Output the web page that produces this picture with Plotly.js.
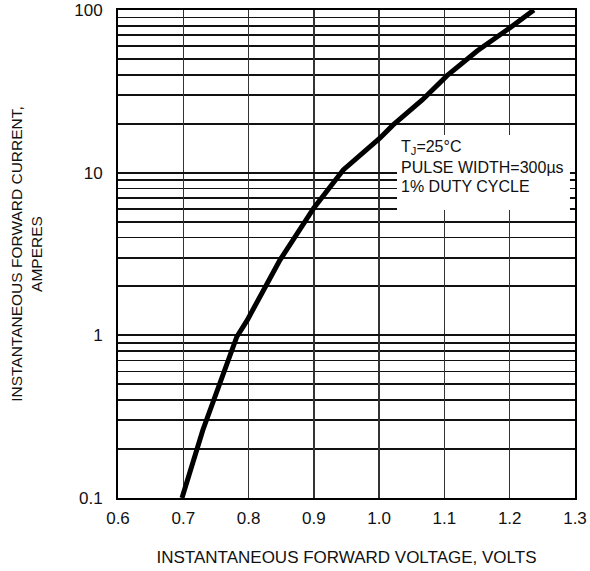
<!DOCTYPE html>
<html>
<head>
<meta charset="utf-8">
<script src="https://cdn.plot.ly/plotly-3.0.1.min.js"></script>
<style>html,body{margin:0;padding:0;background:#fff;}#chart{width:590px;height:571px;}</style>
</head>
<body>
<div id="chart"></div>
<script>
// Forward voltage (V) and forward current (A)
const voltage = [0.698, 0.730, 0.782, 0.798, 0.848, 0.900, 0.945, 1.001, 1.021, 1.066, 1.104, 1.150, 1.200, 1.237];
const current = [0.1, 0.262, 0.98, 1.24, 2.9, 6.07, 10.4, 16.3, 19.6, 28.0, 39.5, 56, 77.5, 100];

const xTicks = [0.6, 0.7, 0.8, 0.9, 1.0, 1.1, 1.2, 1.3];
const xTickLabels = ["0.6", "0.7", "0.8", "0.9", "1.0", "1.1", "1.2", "1.3"];
const yTicks = [0.1, 1, 10, 100];
const yTickLabels = ["0.1", "1", "10", "100"];
const yMinorGrid = [0.2,0.3,0.4,0.5,0.6,0.7,0.8,0.9,2,3,4,5,6,7,8,9,20,30,40,50,60,70,80,90];

const noteLines = ["T<sub>J</sub>=25°C", "PULSE WIDTH=300µs", "1% DUTY CYCLE"];

const FONT = "'Liberation Sans', Arial, Helvetica, sans-serif";

const trace = {
  x: voltage, y: current, type: "scatter", mode: "lines",
  line: {color: "#000", width: 5}, hoverinfo: "skip"
};

const layout = {
  width: 590, height: 571,
  margin: {l: 118, r: 15, t: 10, b: 73},
  paper_bgcolor: "#fff", plot_bgcolor: "#fff",
  showlegend: false,
  font: {family: FONT, size: 17, color: "#111"},
  xaxis: {
    range: [0.6, 1.3], tickvals: xTicks, ticktext: xTickLabels,
    showgrid: true, gridcolor: "#333", gridwidth: 1.5,
    showline: true, linecolor: "#000", linewidth: 2, mirror: true,
    zeroline: false, ticks: "", ticklen: 0, ticklabelstandoff: 4,
    tickfont: {family: FONT, size: 17, color: "#111"},
    title: {text: "INSTANTANEOUS FORWARD VOLTAGE, VOLTS", font: {family: FONT, size: 17, color: "#111"}, standoff: 24}
  },
  yaxis: {
    type: "log", range: [-1, 2], tickvals: yTicks, ticktext: yTickLabels,
    showgrid: true, gridcolor: "#111", gridwidth: 1.8,
    minor: {tickvals: yMinorGrid, showgrid: true, gridcolor: "#111", gridwidth: 1.8, ticks: ""},
    showline: true, linecolor: "#000", linewidth: 2, mirror: true,
    zeroline: false, ticks: "", ticklen: 0, ticklabelstandoff: 10,
    tickfont: {family: FONT, size: 17, color: "#111"},
    title: {text: "INSTANTANEOUS FORWARD CURRENT,<br>AMPERES", font: {family: FONT, size: 15.5, color: "#111"}, standoff: 28}
  },
  shapes: [{
    type: "rect", xref: "paper", yref: "paper",
    x0: 0.6105, x1: 0.989, y0: 0.590, y1: 0.744,
    fillcolor: "#fff", line: {width: 0}, layer: "above"
  }],
  annotations: noteLines.map((t, i) => ({
    xref: "paper", yref: "paper", x: 0.615, y: 0.718 - i * 0.040,
    xanchor: "left", yanchor: "middle", showarrow: false, align: "left",
    text: t, font: {family: FONT, size: 16, color: "#111"}
  }))
};

Plotly.newPlot("chart", [trace], layout, {displayModeBar: false, staticPlot: true});
</script>
</body>
</html>
